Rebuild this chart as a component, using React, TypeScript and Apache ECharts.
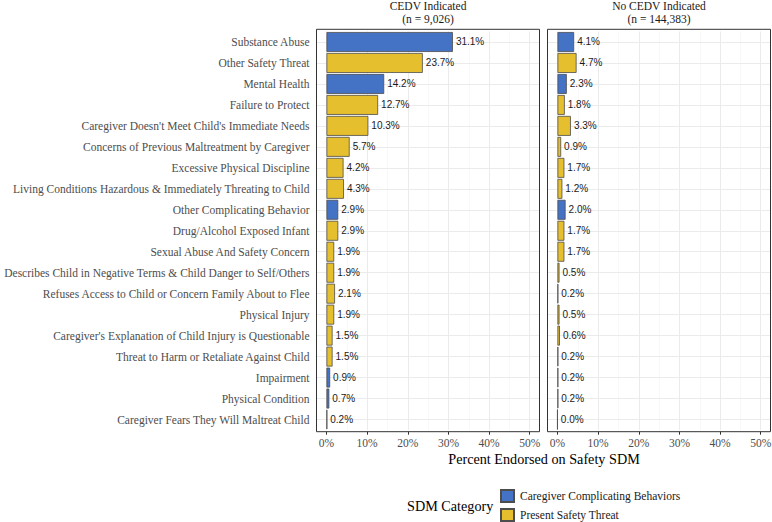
import React, { useEffect, useRef } from "react";
import * as echarts from "echarts";

const categories = [
  "Substance Abuse",
  "Other Safety Threat",
  "Mental Health",
  "Failure to Protect",
  "Caregiver Doesn't Meet Child's Immediate Needs",
  "Concerns of Previous Maltreatment by Caregiver",
  "Excessive Physical Discipline",
  "Living Conditions Hazardous & Immediately Threating to Child",
  "Other Complicating Behavior",
  "Drug/Alcohol Exposed Infant",
  "Sexual Abuse And Safety Concern",
  "Describes Child in Negative Terms & Child Danger to Self/Others",
  "Refuses Access to Child or Concern Family About to Flee",
  "Physical Injury",
  "Caregiver's Explanation of Child Injury is Questionable",
  "Threat to Harm or Retaliate Against Child",
  "Impairment",
  "Physical Condition",
  "Caregiver Fears They Will Maltreat Child",
];

// C = Caregiver Complicating Behaviors, P = Present Safety Threat
const categoryGroup = ["C", "P", "C", "P", "P", "P", "P", "P", "C", "P", "P", "P", "P", "P", "P", "P", "C", "C", "P"];

const cedvValues = [31.1, 23.7, 14.2, 12.7, 10.3, 5.7, 4.2, 4.3, 2.9, 2.9, 1.9, 1.9, 2.1, 1.9, 1.5, 1.5, 0.9, 0.7, 0.2];
const noCedvValues = [4.1, 4.7, 2.3, 1.8, 3.3, 0.9, 1.7, 1.2, 2.0, 1.7, 1.7, 0.5, 0.2, 0.5, 0.6, 0.2, 0.2, 0.2, 0.0];

const panelTitles = ["CEDV Indicated\n(n = 9,026)", "No CEDV Indicated\n(n = 144,383)"];
const groupNames = { C: "Caregiver Complicating Behaviors", P: "Present Safety Threat" };
const groupColors = { C: "#4472C4", P: "#E6BF2F" };

const xTicks = [0, 10, 20, 30, 40, 50];
const xMinorTicks = [5, 15, 25, 35, 45];

const SERIF = "'Liberation Serif', 'Times New Roman', serif";
const SANS = "'Liberation Sans', Arial, sans-serif";

export default function App() {
  const ref = useRef<HTMLDivElement>(null);

  useEffect(() => {
    if (!ref.current) return;
    const chart = echarts.init(ref.current, null, { renderer: "svg" });

    const panels = [
      { left: 316.5, values: cedvValues },
      { left: 547.5, values: noCedvValues },
    ];
    const gridTop = 31.5;
    const gridHeight = 398.5;
    const gridWidth = 223;
    const boxTop = 29.3;
    const boxBottom = 431.7;

    const series: any[] = [];
    panels.forEach((p, pi) => {
      series.push({
        type: "line",
        name: "_grid" + pi,
        xAxisIndex: pi,
        yAxisIndex: pi,
        data: [],
        z: 1,
        silent: true,
        markLine: {
          silent: true,
          symbol: "none",
          animation: false,
          label: { show: false },
          emphasis: { disabled: true },
          data: [
            ...xMinorTicks.map((v) => ({ xAxis: v, lineStyle: { color: "#F3F3F3", width: 0.6, type: "solid" } })),
            ...xTicks.map((v) => ({ xAxis: v, lineStyle: { color: "#EBEBEB", width: 1, type: "solid" } })),
            ...categories.map((_, i) => ({ yAxis: i, lineStyle: { color: "#EBEBEB", width: 1, type: "solid" } })),
          ],
        },
      });
      (["C", "P"] as const).forEach((g) => {
        series.push({
          type: "bar",
          name: groupNames[g],
          xAxisIndex: pi,
          yAxisIndex: pi,
          z: 10,
          barGap: "-100%",
          barCategoryGap: "5%",
          data: p.values.map((v, i) => (categoryGroup[i] === g ? v : "-")),
          itemStyle: { color: groupColors[g], borderColor: "#4D4D4D", borderWidth: 0.8 },
          label: {
            show: true,
            position: "right",
            distance: 3,
            formatter: (prm: any) => Number(prm.value).toFixed(1) + "%",
            fontFamily: SANS,
            fontSize: 10,
            color: "#1A1A1A",
          },
          emphasis: { disabled: true },
        });
      });
    });

    const graphic: any[] = [];
    panels.forEach((p, pi) => {
      graphic.push({
        type: "rect",
        z: 100,
        silent: true,
        shape: { x: p.left, y: boxTop, width: gridWidth, height: boxBottom - boxTop },
        style: { fill: "none", stroke: "#333333", lineWidth: 1 },
      });
      graphic.push({
        type: "text",
        x: p.left + gridWidth / 2,
        y: -0.5,
        silent: true,
        style: {
          text: panelTitles[pi],
          align: "center",
          verticalAlign: "top",
          fontFamily: SERIF,
          fontSize: 11.5,
          lineHeight: 13,
          fill: "#1A1A1A",
        },
      });
    });
    graphic.push({
      type: "text",
      x: 544,
      y: 459,
      silent: true,
      style: {
        text: "Percent Endorsed on Safety SDM",
        align: "center",
        verticalAlign: "middle",
        fontFamily: SERIF,
        fontSize: 14.2,
        fill: "#000000",
      },
    });
    graphic.push({
      type: "text",
      x: 407,
      y: 506,
      silent: true,
      style: {
        text: "SDM Category",
        align: "left",
        verticalAlign: "middle",
        fontFamily: SERIF,
        fontSize: 14.2,
        fill: "#000000",
      },
    });

    const legendBase = {
      orient: "vertical",
      left: 500,
      padding: 0,
      itemWidth: 13,
      itemHeight: 12,
      icon: "rect",
      selectedMode: false,
      textStyle: { fontFamily: SERIF, fontSize: 11.5, color: "#1A1A1A", padding: [0, 0, 0, 1] },
    };

    const option: any = {
      animation: false,
      grid: panels.map((p) => ({
        left: p.left,
        top: gridTop,
        width: gridWidth,
        height: gridHeight,
        show: false,
        containLabel: false,
        outerBoundsMode: "none",
      })),
      xAxis: panels.map((_, pi) => ({
        type: "value",
        gridIndex: pi,
        min: -2.45,
        max: 52.4,
        offset: boxBottom - (gridTop + gridHeight),
        axisLine: { show: false },
        axisTick: { show: true, length: 3, customValues: xTicks, lineStyle: { color: "#333333", width: 1 } },
        axisLabel: {
          customValues: xTicks,
          formatter: (v: number) => v + "%",
          fontFamily: SERIF,
          fontSize: 11.5,
          color: "#4D4D4D",
          margin: 5,
        },
        splitLine: { show: false },
        minorSplitLine: { show: false },
      })),
      yAxis: panels.map((_, pi) => ({
        type: "category",
        gridIndex: pi,
        data: categories,
        inverse: true,
        axisLine: { show: false },
        axisTick: { show: pi === 0, alignWithLabel: true, length: 3, lineStyle: { color: "#333333", width: 1 } },
        axisLabel: {
          show: pi === 0,
          fontFamily: SERIF,
          fontSize: 11.5,
          color: "#4D4D4D",
          margin: 7,
        },
        splitLine: { show: false },
      })),
      legend: [
        { ...legendBase, data: [groupNames.C], top: 489 },
        { ...legendBase, data: [groupNames.P], top: 508 },
      ],
      graphic,
      series,
    };

    chart.setOption(option);
    return () => chart.dispose();
  }, []);

  return <div ref={ref} style={{ position: "absolute", left: 0, top: 0, width: 772, height: 522 }} />;
}
